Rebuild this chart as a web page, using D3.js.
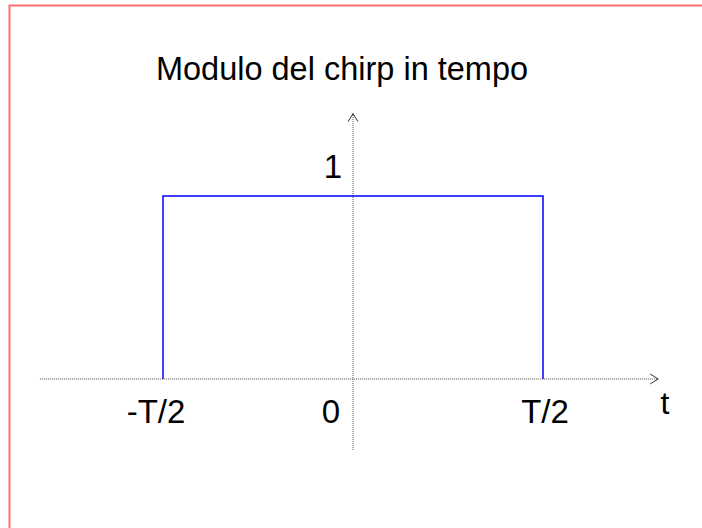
<!DOCTYPE html>
<html>
<head>
<meta charset="utf-8">
<script src="https://cdn.jsdelivr.net/npm/d3@7"></script>
<style>
  body { margin: 0; background: #fff; }
  text { font-family: "Liberation Sans", Arial, sans-serif; fill: #000; }
</style>
</head>
<body>
<div id="chart"></div>
<script>
// modulo del chirp: rettangolo di ampiezza 1 tra -T/2 e T/2
const T = 1;
const pulseT = [-T / 2, -T / 2, T / 2, T / 2];
const pulseA = [0, 1, 1, 0];
const tickVals = [-T / 2, 0, T / 2];
const tickLabels = ["-T/2", "0", "T/2"];
const xRange = [-0.824, 0.803];
const yRange = [-0.388, 1.45];

const width = 702, height = 528;

const svg = d3.select("#chart")
  .append("svg")
  .attr("width", width)
  .attr("height", height);

const x = d3.scaleLinear().domain([-T / 2, T / 2]).range([163, 543]);
const y = d3.scaleLinear().domain([0, 1]).range([379, 196]);

// cornice della slide
svg.append("path")
  .attr("d", `M9.5,${height} V5.5 H${width}`)
  .attr("fill", "none")
  .attr("stroke", "#ff7070")
  .attr("stroke-width", 2);

svg.append("text")
  .attr("x", 342)
  .attr("y", 80)
  .attr("text-anchor", "middle")
  .style("font-size", "32.5px")
  .text("Modulo del chirp in tempo");

// assi tratteggiati
const axisStyle = g => g
  .attr("stroke", "#555")
  .attr("stroke-width", 1)
  .attr("stroke-dasharray", "1,1")
  .attr("fill", "none");

svg.append("line")
  .attr("x1", x(xRange[0])).attr("x2", x(xRange[1]))
  .attr("y1", y(0)).attr("y2", y(0))
  .call(axisStyle);

svg.append("line")
  .attr("x1", x(0)).attr("x2", x(0))
  .attr("y1", y(yRange[0])).attr("y2", y(yRange[1]))
  .call(axisStyle);

// punte delle frecce
const xe = x(xRange[1]), ye = y(yRange[1]);
svg.append("path")
  .attr("d", `M${xe - 8},${y(0) - 5} L${xe},${y(0)} L${xe - 8},${y(0) + 5}`)
  .attr("fill", "none").attr("stroke", "#000").attr("stroke-width", 0.8);
svg.append("path")
  .attr("d", `M${x(0) - 5},${ye + 8} L${x(0)},${ye} L${x(0) + 5},${ye + 8}`)
  .attr("fill", "none").attr("stroke", "#000").attr("stroke-width", 0.8);

// impulso
const line = d3.line()
  .x(d => x(d[0]))
  .y(d => y(d[1]));

svg.append("path")
  .datum(d3.zip(pulseT, pulseA))
  .attr("d", line)
  .attr("fill", "none")
  .attr("stroke", "#0000ff")
  .attr("stroke-width", 1.5);

// etichette
const tickDx = [-7, -22, 2];
svg.selectAll(".tick-label")
  .data(tickVals)
  .join("text")
  .attr("class", "tick-label")
  .attr("x", (d, i) => x(d) + tickDx[i])
  .attr("y", 423)
  .attr("text-anchor", "middle")
  .style("font-size", "33px")
  .text((d, i) => tickLabels[i]);

svg.append("text")
  .attr("x", 665)
  .attr("y", 414)
  .attr("text-anchor", "middle")
  .style("font-size", "32px")
  .text("t");

svg.append("text")
  .attr("x", 333)
  .attr("y", y(1) - 18)
  .attr("text-anchor", "middle")
  .style("font-size", "33px")
  .text("1");
</script>
</body>
</html>
